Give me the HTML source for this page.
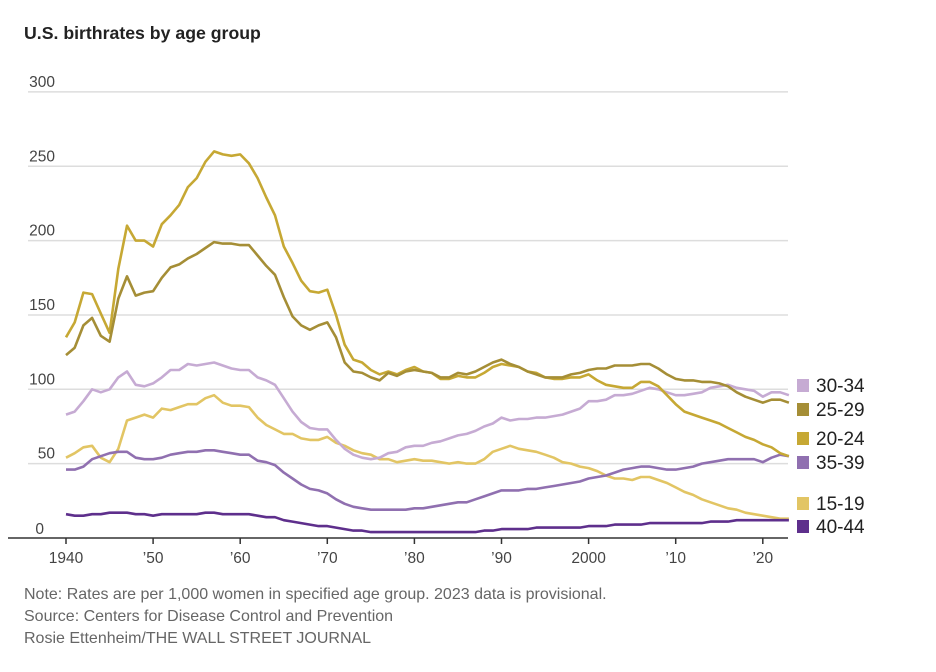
<!DOCTYPE html>
<html><head><meta charset="utf-8"><style>
body{margin:0;background:#fff;font-family:"Liberation Sans",sans-serif;}
#wrap{position:relative;width:936px;height:672px;overflow:hidden}
.t{position:absolute;white-space:nowrap}
</style></head><body><div id="wrap">
<div class="t" style="left:24px;top:23px;font-size:17.7px;font-weight:bold;color:#222">U.S. birthrates by age group</div>
<svg id="c" width="936" height="672" style="position:absolute;left:0;top:0"></svg>
<div class="t" style="left:24px;top:586px;font-size:16px;color:#666">Note: Rates are per 1,000 women in specified age group. 2023 data is provisional.</div>
<div class="t" style="left:24px;top:608px;font-size:16px;color:#666">Source: Centers for Disease Control and Prevention</div>
<div class="t" style="left:24px;top:630px;font-size:16px;color:#666">Rosie Ettenheim/THE WALL STREET JOURNAL</div>
</div>
<script>
const startYear=1940;
const yTicks=[0,50,100,150,200,250,300];
const xTickYears=[1940,1950,1960,1970,1980,1990,2000,2010,2020];
const xTickLabels=["1940","’50","’60","’70","’80","’90","2000","’10","’20"];
const seriesNames=["30-34","25-29","20-24","35-39","15-19","40-44"];
const s2024=[135,145,165,164,151,138,181,210,200,200,196,211,217,224,236,242,253,260,258,257,258,252,242,229,217,196,185,173,166,165,167,150,130,120,118,113,110,112,110,113,115,112,111,107,107,109,108,108,111,115,117,116,115,112,111,108,107,107,108,108,110,106,103,102,101,101,105,105,102,96,90,85,83,81,79,77,74,71,68,66,63,61,57,55];
const s2529=[123,128,143,148,136,132,161,176,163,165,166,175,182,184,188,191,195,199,198,198,197,197,190,183,177,162,149,143,140,143,145,135,118,112,111,108,106,111,109,112,113,112,111,108,108,111,110,112,115,118,120,117,115,112,110,108,108,108,110,111,113,114,114,116,116,116,117,117,114,110,107,106,106,105,105,104,102,98,95,93,91,93,93,91];
const s3034=[83,85,92,100,98,100,108,112,103,102,104,108,113,113,117,116,117,118,116,114,113,113,108,106,103,94,85,78,74,73,73,66,60,56,54,53,54,57,58,61,62,62,64,65,67,69,70,72,75,77,81,79,80,80,81,81,82,83,85,87,92,92,93,96,96,97,99,101,100,98,96,96,97,98,101,102,103,101,100,99,95,98,98,96];
const s3539=[46,46,48,53,55,57,58,58,54,53,53,54,56,57,58,58,59,59,58,57,56,56,52,51,49,44,40,36,33,32,30,26,23,21,20,19,19,19,19,19,20,20,21,22,23,24,24,26,28,30,32,32,32,33,33,34,35,36,37,38,40,41,42,44,46,47,48,48,47,46,46,47,48,50,51,52,53,53,53,53,51,54,56,55];
const s4044=[16,15,15,16,16,17,17,17,16,16,15,16,16,16,16,16,17,17,16,16,16,16,15,14,14,12,11,10,9,8,8,7,6,5,5,4,4,4,4,4,4,4,4,4,4,4,4,4,5,5,6,6,6,6,7,7,7,7,7,7,8,8,8,9,9,9,9,10,10,10,10,10,10,10,11,11,11,12,12,12,12,12,12,12];
const s1519=[54,57,61,62,54,51,60,79,81,83,81,87,86,88,90,90,94,96,91,89,89,88,81,76,73,70,70,67,66,66,68,64,62,59,57,56,53,53,51,52,53,52,52,51,50,51,50,50,53,58,60,62,60,59,58,56,54,51,50,48,47,45,42,40,40,39,41,41,39,37,34,31,29,26,24,22,20,19,17,16,15,14,13,13];
const NS="http://www.w3.org/2000/svg",svg=document.getElementById('c');
const X=yr=>66+(yr-1940)*8.71, Y=v=>538-v*1.487;
function mk(t,a){const e=document.createElementNS(NS,t);for(const k in a)e.setAttribute(k,a[k]);svg.appendChild(e);return e;}
yTicks.forEach(v=>{
 if(v>0){const g=mk('line',{x1:28,x2:788,y1:Y(v),y2:Y(v),stroke:'#ddd','stroke-width':1.5});
 
 }
 const t=mk('text',{x:v===0?44:55,y:Y(v)-(v===0?4:5),'text-anchor':'end','font-size':15.5,fill:'#444','font-family':'Liberation Sans'});
 t.textContent=v;
 
 
});
const ax=mk('line',{x1:8,x2:788,y1:538,y2:538,stroke:'#333','stroke-width':1.5});


xTickYears.forEach((yr,i)=>{
 const l=mk('line',{x1:X(yr),x2:X(yr),y1:538,y2:544,stroke:'#333','stroke-width':1.5});
 
 
 const t=mk('text',{x:X(yr),y:563,'text-anchor':'middle','font-size':15.5,fill:'#444','font-family':'Liberation Sans'});
 t.textContent=xTickLabels[i];
 
 
});
const series=[[s3034,'#c6abd3'],[s2529,'#a58e36'],[s2024,'#c6a834'],[s3539,'#9070b0'],[s1519,'#e2c564'],[s4044,'#5e2f8c']];
const legY=[385,409,438,462,503,526];
[[s1519,'#e2c564',4],[s4044,'#5e2f8c',5],[s3539,'#9070b0',3],[s3034,'#c6abd3',0],[s2024,'#c6a834',2],[s2529,'#a58e36',1]].forEach(([d,c,i])=>{
 const p=mk('path',{d:d.map((v,j)=>(j?'L':'M')+X(startYear+j).toFixed(1)+','+Y(v).toFixed(1)).join(''),fill:'none',stroke:c,'stroke-width':2.6,'stroke-linejoin':'round'});
 
 
});
series.forEach(([d,c],i)=>{
 const r=mk('rect',{x:797,y:legY[i]-6,width:12,height:13,fill:c});
 
 
 const t=mk('text',{x:816,y:legY[i]+7,'font-size':19,fill:'#222','font-family':'Liberation Sans'});
 t.textContent=seriesNames[i];
 
 
});
</script></body></html>
